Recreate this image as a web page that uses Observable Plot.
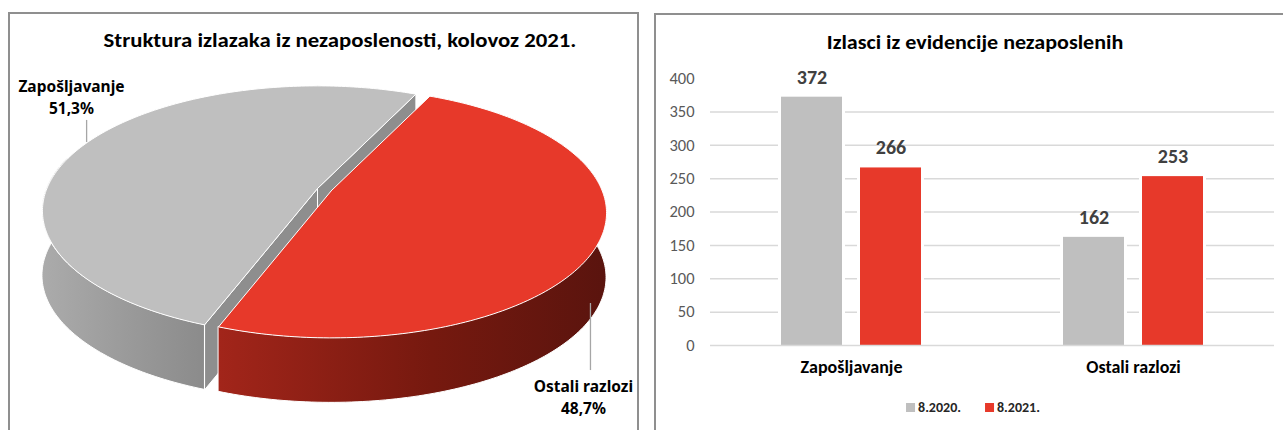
<!DOCTYPE html>
<html>
<head>
<meta charset="utf-8">
<script src="https://cdn.jsdelivr.net/npm/d3@7"></script>
<script src="https://cdn.jsdelivr.net/npm/@observablehq/plot@0.6"></script>
<style>
  html, body { margin: 0; padding: 0; background: #fff; }
  body { width: 1283px; height: 430px; position: relative; overflow: hidden;
         font-family: "Carlito", "Liberation Sans Narrow", "Open Sans", sans-serif; }
  .panel { position: absolute; border: 2px solid #8f8f8f; box-sizing: border-box; background: #fff; }
  .title { position: absolute; font-weight: bold; font-size: 20.5px; color: #000; white-space: nowrap; }
  #pie, #bars { position: absolute; top: 0; }
  #pie { left: 0; }
  #bars { left: 652px; }
  .legend { position: absolute; top: 399px; left: 973px; transform: translateX(-50%); display: flex; gap: 24px;
            font-weight: bold; font-size: 14px; color: #262626; white-space: nowrap; }
  .legend span.sw { display: inline-block; width: 9px; height: 9px; margin-right: 3px; vertical-align: 0px; }
</style>
</head>
<body>
<div class="panel" style="left:8px; top:12px; width:631px; height:440px;"></div>
<div class="panel" style="left:654px; top:13px; width:640px; height:440px;"></div>
<div class="title" id="t1" style="left:340px; top:27px; transform: translateX(-50%) scaleX(1.11);"></div>
<div class="title" id="t2" style="left:975px; top:29px; transform: translateX(-50%) scaleX(1.075);"></div>
<div id="pie"></div>
<div id="bars"></div>
<div class="legend" id="legend"></div>
<script>
// ---------- data ----------
const pieTitle = "Struktura izlazaka iz nezaposlenosti, kolovoz 2021.";
const pieLabels = ["Zapošljavanje", "Ostali razlozi"];
const pieShares = [51.3, 48.7];
const pieShareText = ["51,3%", "48,7%"];

const barTitle = "Izlasci iz evidencije nezaposlenih";
const categories = ["Zapošljavanje", "Ostali razlozi"];
const seriesNames = ["8.2020.", "8.2021."];
const values2020 = [372, 162];
const values2021 = [266, 253];
const yTicks = [0, 50, 100, 150, 200, 250, 300, 350, 400];

// ---------- styles ----------
const GRAY = "#bfbfbf", RED = "#e7392a";

document.getElementById("t1").textContent = pieTitle;
document.getElementById("t2").textContent = barTitle;

// ---------- pie (pseudo-3D with perspective) ----------
const rad = Math.PI / 180;
const rotation = 25;          // angle of first slice edge, clockwise from the back
const persp = 0.179;          // perspective strength (near side larger)
const redStart = rotation;
const redEnd = redStart + pieShares[1] * 3.6;
const grayStart = redEnd, grayEnd = redStart + 360;
const depth = 0.537;

function proj(a) {
  const u = Math.sin(a * rad), v = Math.cos(a * rad);
  const w = 1 + persp * v;
  return {x: u / w, y: v / w};
}
function arc(a0, a1) {
  const n = Math.max(2, Math.ceil(Math.abs(a1 - a0)));
  const pts = [];
  for (let i = 0; i <= n; i++) pts.push(proj(a0 + (a1 - a0) * i / n));
  return pts;
}
function sector(a0, a1) { return [{x: 0, y: 0}, ...arc(a0, a1), {x: 0, y: 0}]; }
function face(a) {
  const p = proj(a);
  return [{x: 0, y: 0}, p, {x: p.x, y: p.y - depth}, {x: 0, y: -depth}, {x: 0, y: 0}];
}
const redTop = sector(redStart, redEnd);
const grayTop = sector(grayStart, grayEnd);
const redWall = arc(75, redEnd);
const grayWall = arc(grayStart, 285);
const grayFaceA = face(grayStart);
const grayFaceB = face(grayEnd);

const defs = () => {
  const ns = "http://www.w3.org/2000/svg";
  const g = document.createElementNS(ns, "defs");
  g.innerHTML = `
    <linearGradient id="redSide" x1="0" x2="1" y1="0" y2="0">
      <stop offset="0" stop-color="#a2251a"/><stop offset="0.55" stop-color="#76190f"/><stop offset="1" stop-color="#5a140e"/>
    </linearGradient>
    <linearGradient id="graySide" x1="0" x2="1" y1="0" y2="0">
      <stop offset="0" stop-color="#ababab"/><stop offset="1" stop-color="#8b8b8b"/>
    </linearGradient>`;
  return g;
};

const pieLabelData = [
  {x: -0.961, y: 0.781, text: pieLabels[0] + "\n" + pieShareText[0]},
  {x: 0.931, y: -1.70, text: pieLabels[1] + "\n" + pieShareText[1]}
];
const leaders = [
  {x: -0.905, y1: 0.579, y2: 0.397},
  {x: 0.957, y1: -0.934, y2: -1.488}
];

const gx = -14, gy = -2; // exploded offset of the grey slice

const pie = Plot.plot({
  width: 640, height: 430, margin: 0,
  x: {domain: [-1, 1], range: [60.4, 601.6], axis: null},
  y: {domain: [-1, 1], range: [311, 69], axis: null},
  style: {background: "transparent", overflow: "visible"},
  marks: [
    defs,
    Plot.line(grayFaceA, {x: "x", y: "y", fill: "#8e8e8e", stroke: "white", strokeWidth: 1, dx: gx, dy: gy}),
    Plot.line(grayFaceB, {x: "x", y: "y", fill: "#8e8e8e", stroke: "white", strokeWidth: 1, dx: gx, dy: gy}),
    Plot.areaY(grayWall, {x: "x", y1: "y", y2: d => d.y - depth, fill: "url(#graySide)", stroke: "white", strokeWidth: 1, dx: gx, dy: gy}),
    Plot.line(grayTop, {x: "x", y: "y", fill: GRAY, stroke: "white", strokeWidth: 1, dx: gx, dy: gy}),
    Plot.areaY(redWall, {x: "x", y1: "y", y2: d => d.y - depth, fill: "url(#redSide)", stroke: "white", strokeWidth: 1}),
    Plot.line(redTop, {x: "x", y: "y", fill: RED, stroke: "white", strokeWidth: 1}),
    Plot.ruleX(leaders, {x: "x", y1: "y1", y2: "y2", stroke: "#a6a6a6", strokeWidth: 1.3}),
    Plot.text(pieLabelData, {x: "x", y: "y", text: "text", fontSize: 15.5, fontWeight: "bold", fill: "#000", lineHeight: 1.4})
  ]
});
document.getElementById("pie").append(pie);

// ---------- bars ----------
const barData = [];
categories.forEach((c, i) => {
  barData.push({category: c, series: seriesNames[0], value: values2020[i]});
  barData.push({category: c, series: seriesNames[1], value: values2021[i]});
});

const bars = Plot.plot({
  width: 631, height: 392,
  marginLeft: 57, marginRight: 9, marginTop: 78, marginBottom: 47,
  style: {background: "transparent", fontFamily: "Carlito, 'Liberation Sans Narrow', 'Open Sans', sans-serif"},
  fx: {domain: categories, padding: 0},
  x: {domain: seriesNames, paddingInner: 0.225, paddingOuter: 0.88, axis: null},
  y: {domain: [0, 400], axis: null},
  color: {domain: seriesNames, range: [GRAY, RED]},
  marks: [
    Plot.gridY(yTicks.filter(t => t > 0 && t < 400), {stroke: "#d9d9d9", strokeOpacity: 1, strokeWidth: 1.5}),
    Plot.axisY(yTicks, {tickSize: 0, tickPadding: 16, fontSize: 16.5, fill: "#595959", label: null}),
    Plot.barY(barData, {fx: "category", x: "series", y: "value", fill: "series", stroke: "white", strokeWidth: 6, paintOrder: "stroke"}),
    Plot.ruleY([0], {stroke: "#d9d9d9", strokeWidth: 1.5}),
    Plot.text(barData, {fx: "category", x: "series", y: "value", text: d => String(d.value), dy: -20, fontSize: 20, fontWeight: "bold", fill: "#404040"}),
    Plot.axisFx({anchor: "bottom", tickSize: 0, tickPadding: 15, fontSize: 18, fontWeight: "bold", fill: "#000", label: null})
  ]
});
document.getElementById("bars").append(bars);

// ---------- legend ----------
const legend = document.getElementById("legend");
seriesNames.forEach((s, i) => {
  const item = document.createElement("div");
  item.innerHTML = `<span class="sw" style="background:${[GRAY, RED][i]}"></span>${s}`;
  legend.append(item);
});
</script>
</body>
</html>
